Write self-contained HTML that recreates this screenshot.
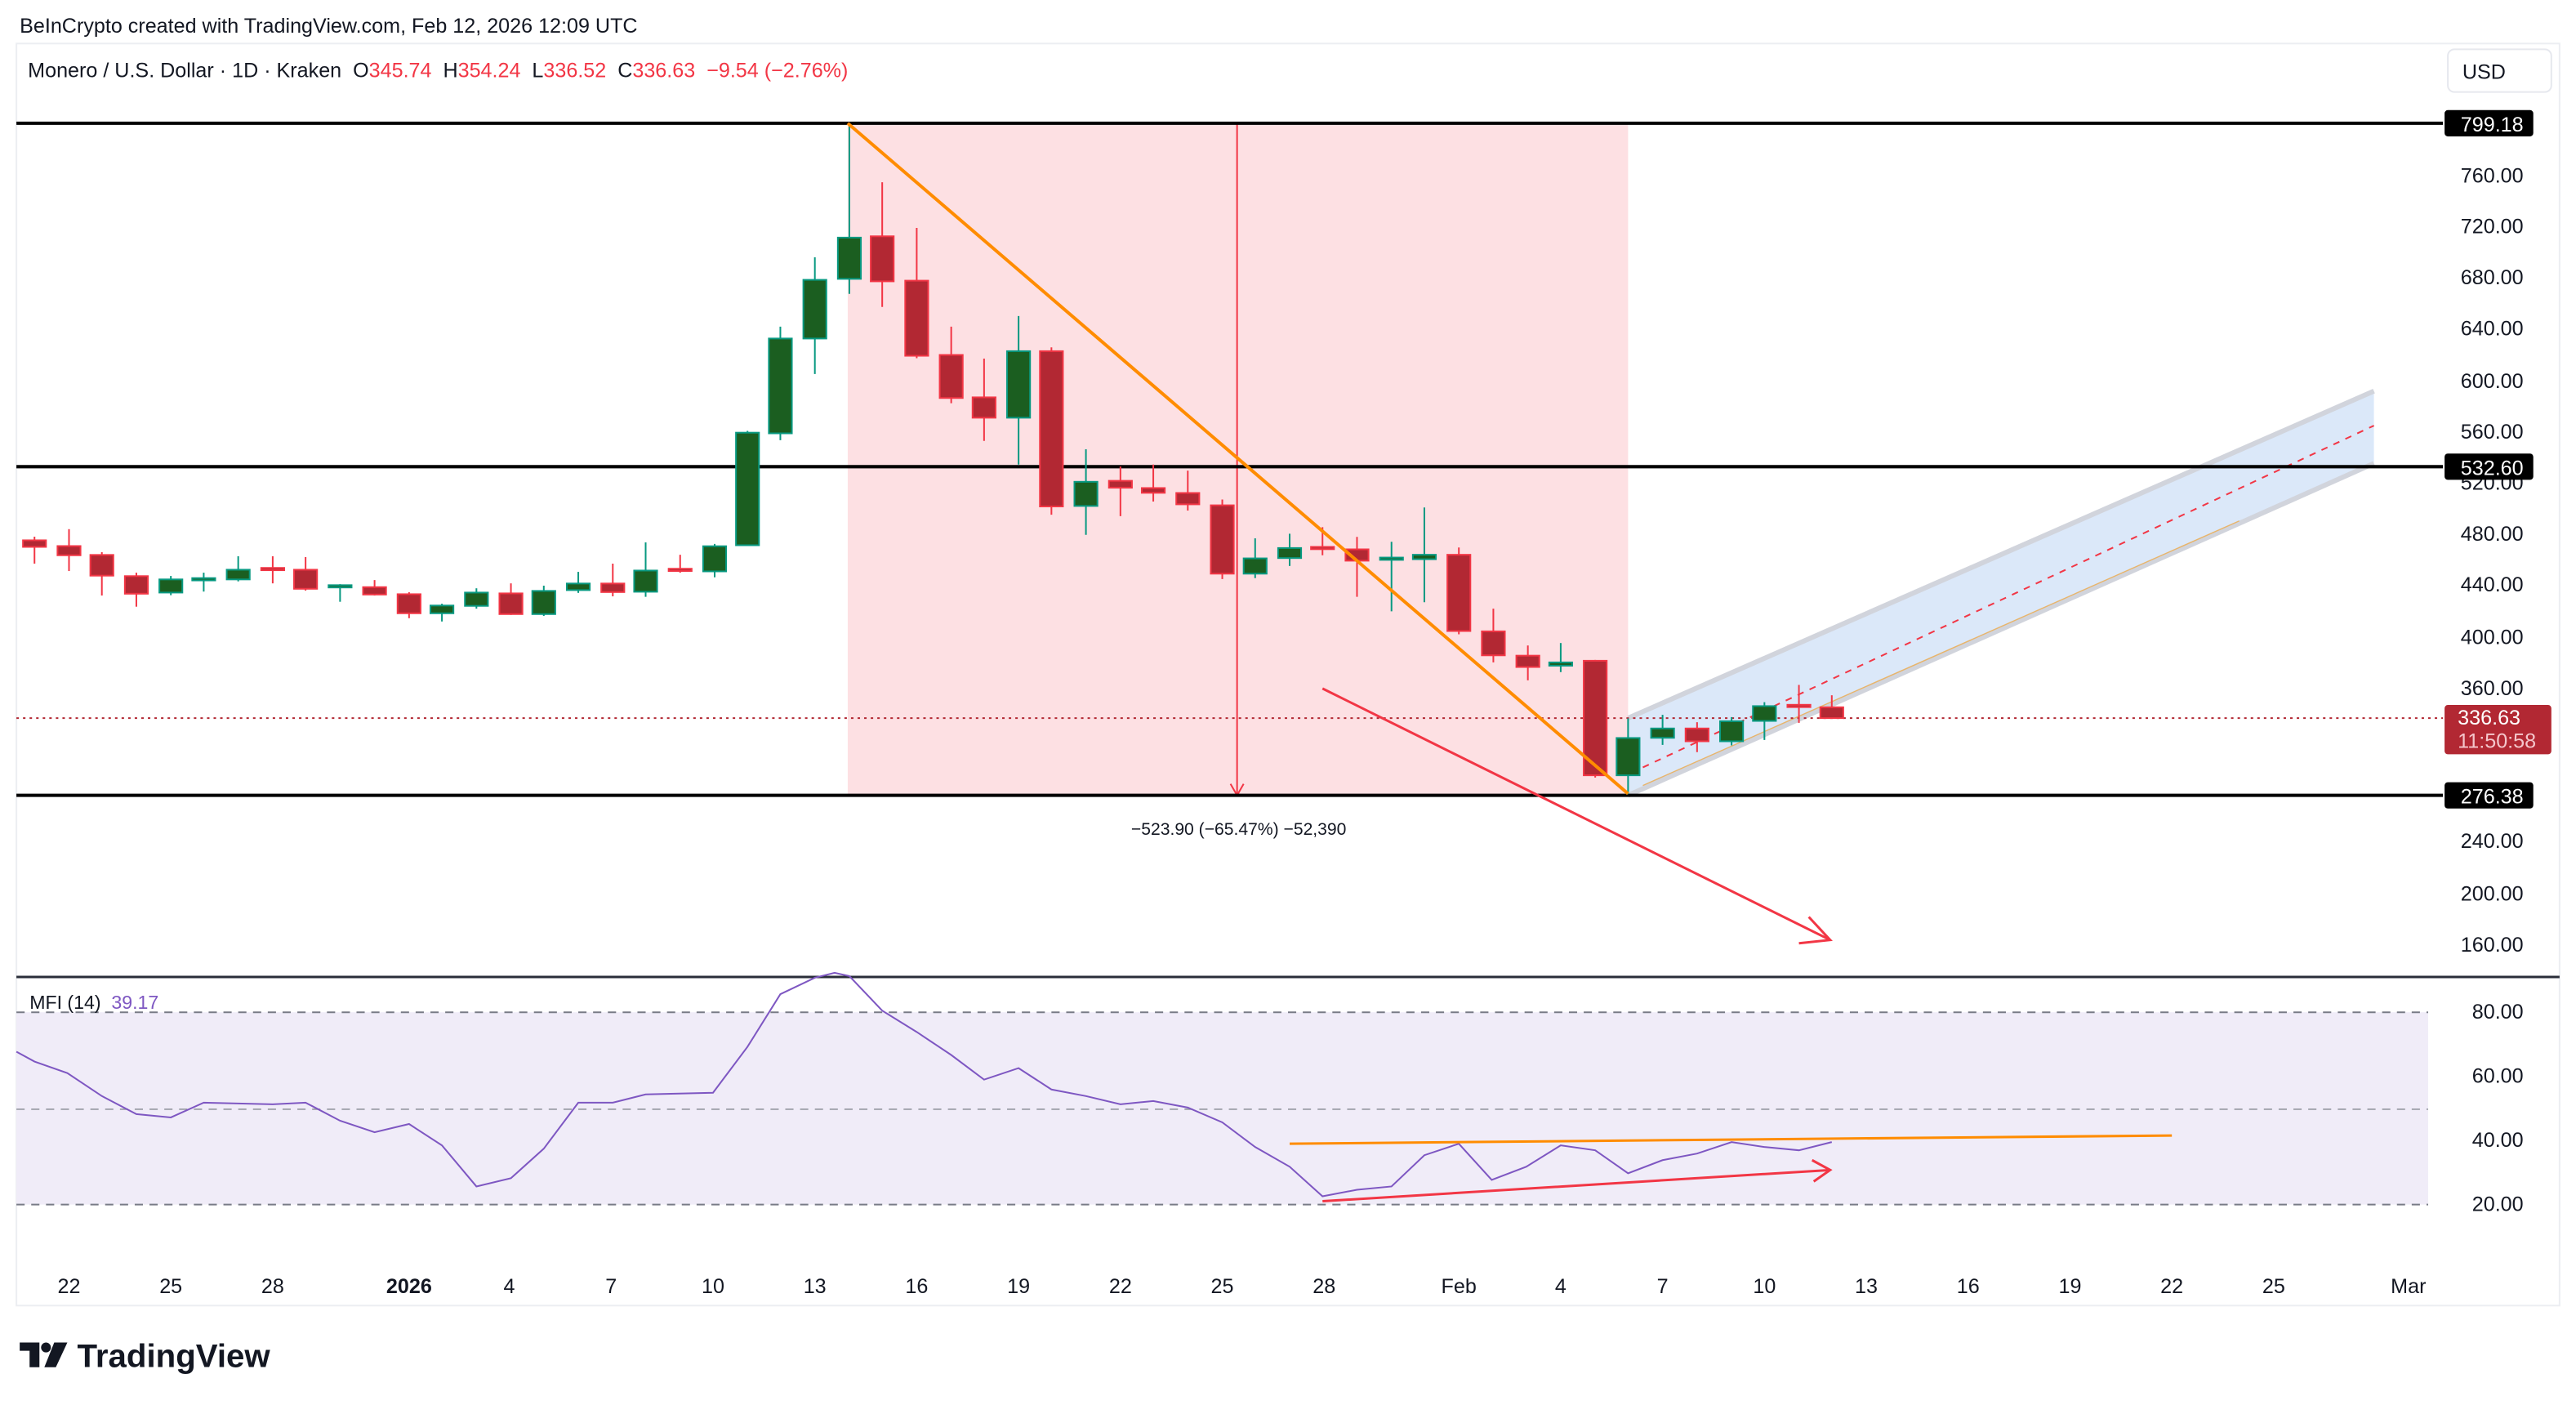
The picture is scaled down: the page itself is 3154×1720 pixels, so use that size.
<!DOCTYPE html>
<html><head><meta charset="utf-8"><style>
html,body{margin:0;padding:0;background:#fff}
svg{display:block}
text{font-family:"Liberation Sans",sans-serif}
.pre{white-space:pre}
.R line{stroke:#f23645;stroke-width:1}
.R rect{fill:#b22833;stroke:#f23645;stroke-width:1}
.G line{stroke:#089981;stroke-width:1}
.G rect{fill:#1b5e20;stroke:#089981;stroke-width:1}
.ax{font-size:12.5px;fill:#131722;text-anchor:end}
.tm{font-size:12.5px;fill:#131722;text-anchor:middle}
</style></head><body>
<svg width="3154" height="1720" viewBox="0 0 1568 855" preserveAspectRatio="none" xmlns="http://www.w3.org/2000/svg">
<rect width="1568" height="855" fill="#fff"/>
<text x="12" y="20" font-size="12.5" fill="#131722">BeInCrypto created with TradingView.com, Feb 12, 2026 12:09 UTC</text>
<rect x="10" y="26.5" width="1548" height="768" fill="#fff" stroke="#eceef2" stroke-width="1"/>
<text class="pre" x="17" y="47" font-size="12.5" fill="#131722">Monero / U.S. Dollar · 1D · Kraken  O<tspan fill="#f23645">345.74</tspan>  H<tspan fill="#f23645">354.24</tspan>  L<tspan fill="#f23645">336.52</tspan>  C<tspan fill="#f23645">336.63</tspan>  <tspan fill="#f23645">−9.54 (−2.76%)</tspan></text>
<rect x="1490" y="30" width="63" height="26" rx="4" fill="#fff" stroke="#e6e8ee"/>
<text x="1512" y="48" font-size="12.5" fill="#131722" text-anchor="middle">USD</text>
<rect x="516" y="75" width="475" height="409" fill="#fde0e3"/>
<line x1="516" y1="75" x2="991" y2="75" stroke="#f23645" stroke-width="1.5"/>
<line x1="516" y1="484" x2="991" y2="484" stroke="#f23645" stroke-width="1.5"/>
<line x1="753" y1="75" x2="753" y2="483" stroke="#f23645" stroke-width="1"/>
<path d="M749,477 L753,484 L757,477" fill="none" stroke="#f23645" stroke-width="1"/>
<text x="754" y="508" font-size="10.5" fill="#131722" text-anchor="middle">−523.90 (−65.47%) −52,390</text>
<polygon points="991,437 1445,238 1445,282 991,484" fill="#dbe8f9"/>
<line x1="991" y1="437" x2="1445" y2="238" stroke="#d1d4dc" stroke-width="3"/>
<line x1="991" y1="484" x2="1445" y2="282" stroke="#d1d4dc" stroke-width="3"/>
<line x1="991" y1="437" x2="991" y2="484" stroke="#d1d4dc" stroke-width="1"/>
<line x1="1000" y1="478" x2="1363" y2="317" stroke="#e8b46a" stroke-width="0.7"/>
<line x1="1000" y1="467" x2="1445" y2="259" stroke="#f23645" stroke-width="1" stroke-dasharray="4,4"/>
<line x1="10" y1="75" x2="1487" y2="75" stroke="#000" stroke-width="2"/>
<line x1="10" y1="284" x2="1487" y2="284" stroke="#000" stroke-width="2"/>
<line x1="10" y1="484" x2="1487" y2="484" stroke="#000" stroke-width="2"/>
<line x1="10" y1="437" x2="1487" y2="437" stroke="#b22833" stroke-width="1" stroke-dasharray="1.5,2.5"/>
<g class="R"><line x1="21" y1="326.6" x2="21" y2="343"/><rect x="14" y="328.8" width="14" height="4"/></g>
<g class="R"><line x1="42" y1="322" x2="42" y2="347.5"/><rect x="35" y="332.3" width="14" height="5.6"/></g>
<g class="R"><line x1="62" y1="336" x2="62" y2="362.4"/><rect x="55" y="337.7" width="14" height="12.6"/></g>
<g class="R"><line x1="83" y1="348.5" x2="83" y2="369.2"/><rect x="76" y="350.6" width="14" height="10.7"/></g>
<g class="G"><line x1="104" y1="350.5" x2="104" y2="362.2"/><rect x="97" y="352.6" width="14" height="8"/></g>
<g class="G"><line x1="124" y1="348.5" x2="124" y2="360"/><rect x="117" y="351.8" width="14" height="1.4"/></g>
<g class="G"><line x1="145" y1="338.5" x2="145" y2="353.8"/><rect x="138" y="346.7" width="14" height="5.9"/></g>
<g class="R"><line x1="166" y1="338.5" x2="166" y2="355"/><rect x="159" y="345.6" width="14" height="1.4"/></g>
<g class="R"><line x1="186" y1="339" x2="186" y2="359.4"/><rect x="179" y="346.7" width="14" height="11.6"/></g>
<g class="G"><line x1="207" y1="355.5" x2="207" y2="366.2"/><rect x="200" y="356.1" width="14" height="1.4"/></g>
<g class="R"><line x1="228" y1="353" x2="228" y2="362.4"/><rect x="221" y="357.3" width="14" height="4.5"/></g>
<g class="R"><line x1="249" y1="360.4" x2="249" y2="376.2"/><rect x="242" y="361.6" width="14" height="11.6"/></g>
<g class="G"><line x1="269" y1="367.4" x2="269" y2="378.2"/><rect x="262" y="368.5" width="14" height="4.7"/></g>
<g class="G"><line x1="290" y1="358" x2="290" y2="370.4"/><rect x="283" y="360.6" width="14" height="8.1"/></g>
<g class="R"><line x1="311" y1="355" x2="311" y2="374.2"/><rect x="304" y="361.1" width="14" height="12.6"/></g>
<g class="G"><line x1="331" y1="356.4" x2="331" y2="374.8"/><rect x="324" y="359.6" width="14" height="14.1"/></g>
<g class="G"><line x1="352" y1="348" x2="352" y2="360.8"/><rect x="345" y="355.1" width="14" height="4"/></g>
<g class="R"><line x1="373" y1="343" x2="373" y2="362.9"/><rect x="366" y="355.1" width="14" height="5.2"/></g>
<g class="G"><line x1="393" y1="330.1" x2="393" y2="363.2"/><rect x="386" y="347.2" width="14" height="12.9"/></g>
<g class="R"><line x1="414" y1="337.6" x2="414" y2="348.5"/><rect x="407" y="346.1" width="14" height="1.4"/></g>
<g class="G"><line x1="435" y1="331" x2="435" y2="351.3"/><rect x="428" y="332.4" width="14" height="15.3"/></g>
<g class="G"><line x1="455" y1="262.2" x2="455" y2="331.8"/><rect x="448" y="263.3" width="14" height="68.5"/></g>
<g class="G"><line x1="475" y1="198.8" x2="475" y2="267.9"/><rect x="468" y="206" width="14" height="57.7"/></g>
<g class="G"><line x1="496" y1="156.6" x2="496" y2="227.6"/><rect x="489" y="170.3" width="14" height="35.7"/></g>
<g class="G"><line x1="517" y1="75.7" x2="517" y2="178.8"/><rect x="510" y="144.6" width="14" height="25.1"/></g>
<g class="R"><line x1="537" y1="110.9" x2="537" y2="186.8"/><rect x="530" y="143.8" width="14" height="27.4"/></g>
<g class="R"><line x1="558" y1="138.7" x2="558" y2="218"/><rect x="551" y="170.8" width="14" height="45.7"/></g>
<g class="R"><line x1="579" y1="198.8" x2="579" y2="245.4"/><rect x="572" y="216" width="14" height="26.2"/></g>
<g class="R"><line x1="599" y1="218.2" x2="599" y2="268.3"/><rect x="592" y="241.8" width="14" height="12.4"/></g>
<g class="G"><line x1="620" y1="192.3" x2="620" y2="282.7"/><rect x="613" y="213.7" width="14" height="40.5"/></g>
<g class="R"><line x1="640" y1="211.4" x2="640" y2="313.2"/><rect x="633" y="213.7" width="14" height="94.5"/></g>
<g class="G"><line x1="661" y1="273.4" x2="661" y2="325.5"/><rect x="654" y="293.2" width="14" height="14.7"/></g>
<g class="R"><line x1="682" y1="283.9" x2="682" y2="314.1"/><rect x="675" y="292.6" width="14" height="4.2"/></g>
<g class="R"><line x1="702" y1="282.7" x2="702" y2="305.2"/><rect x="695" y="297" width="14" height="2.9"/></g>
<g class="R"><line x1="723" y1="286.4" x2="723" y2="310.7"/><rect x="716" y="300" width="14" height="6.9"/></g>
<g class="R"><line x1="744" y1="304" x2="744" y2="352.4"/><rect x="737" y="307.5" width="14" height="41.6"/></g>
<g class="G"><line x1="764" y1="327.6" x2="764" y2="351.8"/><rect x="757" y="339.8" width="14" height="9.3"/></g>
<g class="G"><line x1="785" y1="324.8" x2="785" y2="344.4"/><rect x="778" y="333.5" width="14" height="6.1"/></g>
<g class="R"><line x1="805" y1="320.8" x2="805" y2="337.9"/><rect x="798" y="332.8" width="14" height="1.4"/></g>
<g class="R"><line x1="826" y1="326.7" x2="826" y2="363.2"/><rect x="819" y="334.3" width="14" height="6.9"/></g>
<g class="G"><line x1="847" y1="329.7" x2="847" y2="372"/><rect x="840" y="339.3" width="14" height="1.4"/></g>
<g class="G"><line x1="867" y1="308.8" x2="867" y2="366.5"/><rect x="860" y="337.6" width="14" height="2.7"/></g>
<g class="R"><line x1="888" y1="333.2" x2="888" y2="386"/><rect x="881" y="337.6" width="14" height="46.4"/></g>
<g class="R"><line x1="909" y1="370.4" x2="909" y2="403.1"/><rect x="902" y="384.2" width="14" height="14.6"/></g>
<g class="R"><line x1="930" y1="392.8" x2="930" y2="414"/><rect x="923" y="399" width="14" height="6.9"/></g>
<g class="G"><line x1="950" y1="391.3" x2="950" y2="409"/><rect x="943" y="403.1" width="14" height="2"/></g>
<g class="R"><line x1="971" y1="401.6" x2="971" y2="473.2"/><rect x="964" y="402.1" width="14" height="69.7"/></g>
<g class="G"><line x1="991" y1="437.2" x2="991" y2="483.3"/><rect x="984" y="449.1" width="14" height="22.7"/></g>
<g class="G"><line x1="1012" y1="435" x2="1012" y2="453.3"/><rect x="1005" y="443.3" width="14" height="5.7"/></g>
<g class="R"><line x1="1033" y1="439.5" x2="1033" y2="457.7"/><rect x="1026" y="443.3" width="14" height="7.8"/></g>
<g class="G"><line x1="1054" y1="436.4" x2="1054" y2="453.6"/><rect x="1047" y="438.9" width="14" height="12.2"/></g>
<g class="G"><line x1="1074" y1="427.3" x2="1074" y2="450.3"/><rect x="1067" y="429.7" width="14" height="9"/></g>
<g class="R"><line x1="1095" y1="416.8" x2="1095" y2="439.9"/><rect x="1088" y="428.9" width="14" height="1.4"/></g>
<g class="R"><line x1="1115" y1="423.1" x2="1115" y2="437"/><rect x="1108" y="430.4" width="14" height="6.6"/></g>
<line x1="516" y1="75" x2="991" y2="483" stroke="#ff8c00" stroke-width="2"/>
<line x1="805" y1="419" x2="1114" y2="572" stroke="#f23645" stroke-width="1.5"/>
<path d="M1101,558 L1114,572 L1095,574" fill="none" stroke="#f23645" stroke-width="1.5"/>
<g class="ax">
<text x="1536" y="111">760.00</text><text x="1536" y="142">720.00</text><text x="1536" y="173">680.00</text>
<text x="1536" y="204">640.00</text><text x="1536" y="236">600.00</text><text x="1536" y="267">560.00</text>
<text x="1536" y="298">520.00</text><text x="1536" y="329">480.00</text><text x="1536" y="360">440.00</text>
<text x="1536" y="392">400.00</text><text x="1536" y="423">360.00</text><text x="1536" y="516">240.00</text>
<text x="1536" y="548">200.00</text><text x="1536" y="579">160.00</text>
</g>
<rect x="1488" y="67" width="54" height="16" rx="2" fill="#000"/><text x="1536" y="80" font-size="12.5" fill="#fff" text-anchor="end">799.18</text>
<rect x="1488" y="276" width="54" height="16" rx="2" fill="#000"/><text x="1536" y="289" font-size="12.5" fill="#fff" text-anchor="end">532.60</text>
<rect x="1488" y="476" width="54" height="16" rx="2" fill="#000"/><text x="1536" y="489" font-size="12.5" fill="#fff" text-anchor="end">276.38</text>
<rect x="1488" y="429" width="65" height="30" rx="2" fill="#b22833"/>
<text x="1496" y="441" font-size="12.5" fill="#fff">336.63</text>
<text x="1496" y="455" font-size="12.5" fill="#f4c6cb">11:50:58</text>
<line x1="10" y1="594.5" x2="1558" y2="594.5" stroke="#2a2e39" stroke-width="1.5"/>
<rect x="10" y="616" width="1468" height="117" fill="#f0ecf8"/>
<line x1="10" y1="616" x2="1478" y2="616" stroke="#787b86" stroke-width="1" stroke-dasharray="5,4"/>
<line x1="10" y1="675" x2="1478" y2="675" stroke="#9598a1" stroke-width="0.8" stroke-dasharray="5,4"/>
<line x1="10" y1="733" x2="1478" y2="733" stroke="#787b86" stroke-width="1" stroke-dasharray="5,4"/>
<text class="pre" x="18" y="614" font-size="11.5" fill="#131722">MFI (14)  <tspan fill="#7e57c2">39.17</tspan></text>
<polyline fill="none" stroke="#7e57c2" stroke-width="1" points="10,640 21,646 41,653 62,667 83,678 104,680 124,671 166,672 186,671 207,682 228,689 249,684 269,697 290,722 311,717 331,699 352,671 373,671 393,666 434,665 455,637 475,605 496,595 508,592 517,594 537,615 558,628 579,642 599,657 620,650 640,663 661,667 682,672 702,670 723,674 744,683 764,698 785,710 805,728 826,724 847,722 867,703 888,696 908,718 929,710 950,697 971,700 991,714 1012,706 1033,702 1054,695 1074,698 1095,700 1115,695"/>
<line x1="785" y1="696" x2="1322" y2="691" stroke="#ff8c00" stroke-width="1.5"/>
<line x1="805" y1="731" x2="1114" y2="712" stroke="#f23645" stroke-width="1.5"/>
<path d="M1103,706 L1114,712 L1104,719" fill="none" stroke="#f23645" stroke-width="1.5"/>
<g class="ax"><text x="1536" y="620">80.00</text><text x="1536" y="659">60.00</text><text x="1536" y="698">40.00</text><text x="1536" y="737">20.00</text></g>
<g class="tm">
<text x="42" y="787">22</text><text x="104" y="787">25</text><text x="166" y="787">28</text>
<text x="249" y="787" font-weight="bold">2026</text><text x="310" y="787">4</text><text x="372" y="787">7</text>
<text x="434" y="787">10</text><text x="496" y="787">13</text><text x="558" y="787">16</text><text x="620" y="787">19</text>
<text x="682" y="787">22</text><text x="744" y="787">25</text><text x="806" y="787">28</text><text x="888" y="787">Feb</text>
<text x="950" y="787">4</text><text x="1012" y="787">7</text><text x="1074" y="787">10</text><text x="1136" y="787">13</text>
<text x="1198" y="787">16</text><text x="1260" y="787">19</text><text x="1322" y="787">22</text><text x="1384" y="787">25</text>
<text x="1466" y="787">Mar</text>
</g>
<path d="M12,817 H24 V832 H18 V822 H12 Z" fill="#131722"/>
<circle cx="28" cy="820" r="3" fill="#131722"/>
<path d="M33,817 H41 L34,832 H27 Z" fill="#131722"/>
<text x="47" y="832" font-size="20" font-weight="bold" fill="#131722">TradingView</text>
</svg>
</body></html>
